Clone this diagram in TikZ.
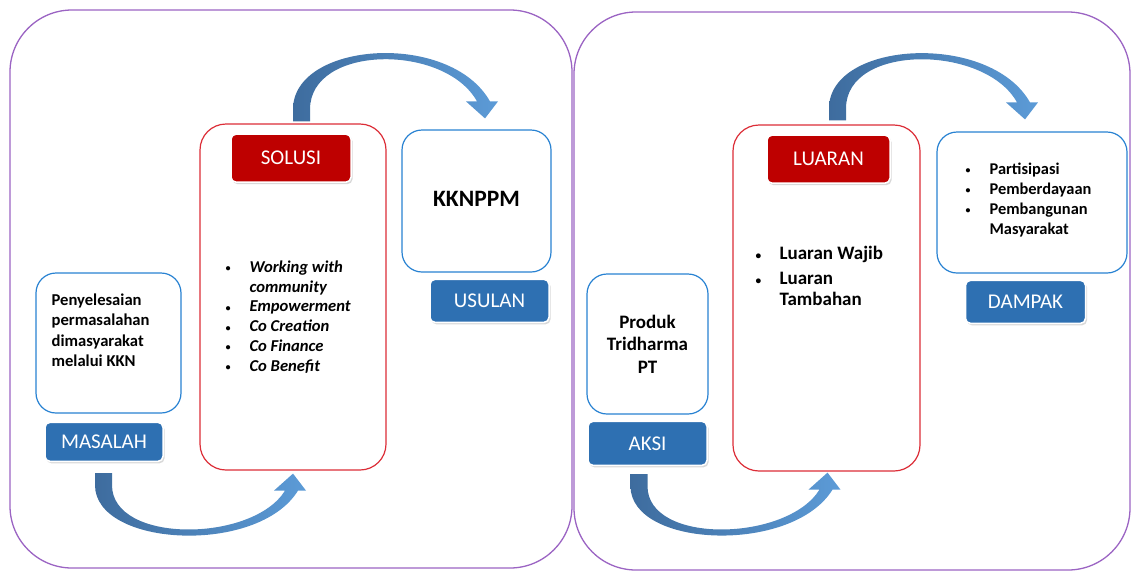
\documentclass[tikz,border=0pt]{standalone}
\usepackage{fontspec}
\setmainfont{Carlito}
\usepackage{xcolor}
\usetikzlibrary{positioning, calc, shadows}
\definecolor{framepurple}{RGB}{155,100,195}
\definecolor{boxblue}{RGB}{40,130,210}
\definecolor{boxred}{RGB}{220,45,55}
\definecolor{btnblue}{RGB}{46,112,178}
\definecolor{btnred}{RGB}{190,0,0}
\definecolor{arrowdark}{RGB}{62,108,158}
\definecolor{arrowlight}{RGB}{92,155,215}
\newcommand{\bul}{\makebox[25pt][l]{\hspace*{1pt}\raisebox{0.5pt}{\scalebox{0.6}{\textbullet}}}}
% bent block arrow: #1 start, #2 tip, #3 side (1 up, -1 down), #4 depth
\newcommand{\bendarrow}[4]{%
  \shade[left color=arrowdark, right color=arrowlight]
    ($(#1)+(-9,0)$) -- ($(#1)+({-9},{-12*(#3)})$)
    .. controls ($(#1)+({-9},{-(#4)*(#3)})$) and ($(#2)+({-35},{-((#4)+8)*(#3)})$) .. ($(#2)+({5},{-17*(#3)})$)
    -- ($(#2)+({13},{-17*(#3)})$) -- (#2) -- ($(#2)+({-19},{-17*(#3)})$) -- ($(#2)+({-8},{-17*(#3)})$)
    .. controls ($(#2)+({-40},{-((#4)-5)*(#3)})$) and ($(#1)+({8},{-((#4)-3)*(#3)})$) .. ($(#1)+({8},{-12*(#3)})$)
    -- ($(#1)+(8,0)$) -- cycle;}

\begin{document}
\begin{tikzpicture}[
    x=1pt, y=-1pt,
    frame/.style={draw=framepurple, line width=1.3pt, rounded corners=62pt},
    whitebox/.style={draw=boxblue, line width=1.2pt, rounded corners=20pt, fill=white},
    redbox/.style={draw=boxred, line width=1.2pt, rounded corners=26pt, fill=white},
    button/.style={rounded corners=5pt, draw=white, line width=1.5pt, text=white, font=\fontsize{21}{24}\selectfont, drop shadow={shadow xshift=1.5pt, shadow yshift=-2pt, opacity=0.3}},
    bluebutton/.style={button, fill=btnblue},
    redbutton/.style={button, fill=btnred},
    boxtext/.style={font=\bfseries\fontsize{16.6}{20.5}\selectfont, align=left, inner sep=0pt}
]
\useasboundingbox (0,0) rectangle (1132,574);

% Frames
\node[frame, minimum width=562pt, minimum height=558pt] (leftframe) at (291,289) {};
\node[frame, minimum width=556pt, minimum height=558pt] (rightframe) at (852,291) {};

% Left panel
\node[whitebox, minimum width=145pt, minimum height=140pt] (masalahbox) at (108.5,343) {};
\node[bluebutton, below=8pt of masalahbox, xshift=-4.5pt, minimum width=118pt, minimum height=39pt] (masalah) {MASALAH};
\node[redbox, minimum width=186pt, minimum height=346pt] (solusibox) at (293,297) {};
\node[redbutton, below=10pt of solusibox.north, xshift=-2pt, minimum width=120pt, minimum height=48pt] (solusi) {SOLUSI};
\node[whitebox, minimum width=149pt, minimum height=142pt, font=\bfseries\fontsize{23.5}{26}\selectfont] (usulanbox) at (476.5,201) {\raisebox{5pt}{KKNPPM}};
\node[bluebutton, below=6pt of usulanbox, xshift=13pt, minimum width=119pt, minimum height=43pt] (usulan) {USULAN};

\node[boxtext, anchor=north west] (masalahtext) at ([xshift=16pt, yshift=-21pt]masalahbox.north west)
  {Penyelesaian\\permasalahan\\dimasyarakat\\melalui KKN};
\node[boxtext, font=\bfseries\itshape\fontsize{16.6}{19.8}\selectfont, anchor=north west] (solusitext) at ([xshift=25pt, yshift=-137pt]solusibox.north west)
  {\bul Working with\\\hspace*{25pt}community\\\bul Empowerment\\\bul Co Creation\\\bul Co Finance\\\bul Co Benefit};

% Right panel
\node[whitebox, minimum width=121pt, minimum height=140pt, font=\bfseries\fontsize{19}{22.5}\selectfont, align=center] (aksibox) at (647.5,344) {Produk\\Tridharma\\PT};
\node[bluebutton, below=6pt of aksibox, minimum width=119pt, minimum height=44pt] (aksi) {AKSI};
\node[redbox, minimum width=187pt, minimum height=346pt] (luaranbox) at (826.5,298) {};
\node[redbutton, below=10pt of luaranbox.north, xshift=2pt, minimum width=123pt, minimum height=48pt] (luaran) {LUARAN};
\node[whitebox, minimum width=190pt, minimum height=141pt] (dampakbox) at (1032,202.5) {};
\node[bluebutton, below=6pt of dampakbox, xshift=-6.5pt, minimum width=120pt, minimum height=43pt] (dampak) {DAMPAK};

\node[boxtext, font=\bfseries\fontsize{19}{21}\selectfont, anchor=north west] (luarantext) at ([xshift=22pt, yshift=-122pt]luaranbox.north west)
  {\bul Luaran Wajib\\[4pt]\bul Luaran\\\hspace*{25pt}Tambahan};
\node[boxtext, font=\bfseries\fontsize{16.4}{20}\selectfont, anchor=north west] (dampaktext) at ([xshift=28pt, yshift=-31pt]dampakbox.north west)
  {\bul Partisipasi\\\bul Pemberdayaan\\\bul Pembangunan\\\hspace*{25pt}Masyarakat};

% Arrow ends
\coordinate (masalahout) at ($(masalah.south)+(0,11)$);
\coordinate (solusiin) at ($(solusibox.south)+(0,3)$);
\coordinate (solusiout) at ($(solusibox.north)+(9,-2)$);
\coordinate (usulanin) at ($(usulanbox.north)+(8.5,-11)$);
\coordinate (aksiout) at ($(aksi.south)+(-8,8)$);
\coordinate (luaranin) at ($(luaranbox.south)+(1,1)$);
\coordinate (luaranout) at ($(luaranbox.north)+(11.5,-4)$);
\coordinate (dampakin) at ($(dampakbox.north)+(-7,-12)$);

% Draw arrows
\bendarrow{masalahout}{solusiin}{-1}{74}
\bendarrow{solusiout}{usulanin}{1}{80}
\bendarrow{aksiout}{luaranin}{-1}{74}
\bendarrow{luaranout}{dampakin}{1}{80}

\end{tikzpicture}
\end{document}
